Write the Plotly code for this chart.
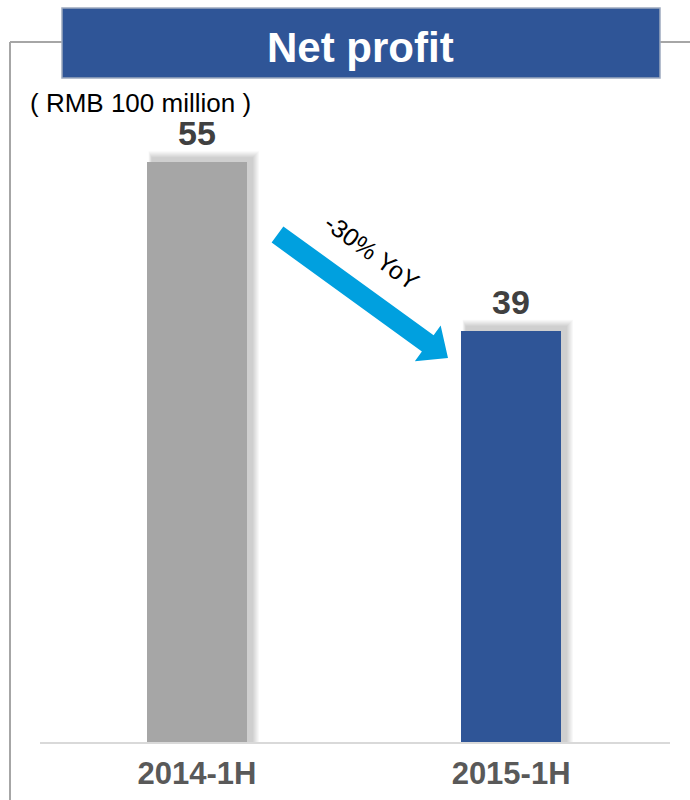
import math
import plotly.graph_objects as go

# Data
periods = ["2014-1H", "2015-1H"]
net_profit = [55, 39]
bar_colors = ["#A6A6A6", "#2F5597"]
title_text = "Net profit"
unit_text = "( RMB 100 million )"
change_text = "-30% YoY"

# Canvas geometry (pixels)
W, H = 690, 800
ML, MR, MT, MB = 40, 20, 100, 58
PW, PH = W - ML - MR, H - MT - MB

X_RANGE = [-0.5, 1.506]
Y_RANGE = [0, 60.9]
UX = (X_RANGE[1] - X_RANGE[0]) / PW   # data units per pixel, x
UY = (Y_RANGE[1] - Y_RANGE[0]) / PH   # data units per pixel, y
BAR_W = 100 * UX


def px(x):
    return (x - ML) / PW


def py(y):
    return (H - MB - y) / PH


FONT = "Liberation Sans, Arial, sans-serif"

fig = go.Figure()
fig.add_trace(go.Bar(
    x=list(range(len(periods))),
    y=net_profit,
    width=BAR_W,
    marker=dict(color=bar_colors, line=dict(width=0)),
    hoverinfo="skip",
))

shapes = []

# Soft drop shadow behind each bar (offset up and to the right)
for i, v in enumerate(net_profit):
    off_x, off_y = 5 * UX, 4 * UY
    for k in range(7, 0, -1):
        shapes.append(dict(
            type="rect", xref="x", yref="y", layer="below",
            x0=i - BAR_W / 2 + off_x - k * UX * 0.5,
            x1=i + BAR_W / 2 + off_x + k * UX,
            y0=0,
            y1=v + off_y + k * UY,
            line=dict(width=0),
            fillcolor="rgba(0,0,0,0.028)",
        ))

# Frame lines around the panel
frame_col = "#A6A6A6"
shapes.append(dict(type="line", xref="paper", yref="paper",
                   x0=px(10), y0=py(42), x1=px(10), y1=py(800),
                   line=dict(color=frame_col, width=2)))
shapes.append(dict(type="line", xref="paper", yref="paper",
                   x0=px(10), y0=py(42), x1=px(62), y1=py(42),
                   line=dict(color=frame_col, width=2)))
shapes.append(dict(type="line", xref="paper", yref="paper",
                   x0=px(660), y0=py(42), x1=px(690), y1=py(42),
                   line=dict(color=frame_col, width=2)))

# Title banner
shapes.append(dict(type="rect", xref="paper", yref="paper",
                   x0=px(62), y0=py(78), x1=px(660), y1=py(8),
                   fillcolor="#2F5597", line=dict(color="#9DA9BF", width=1.5)))

# Decline arrow between the two bars
tail = (277.5, 234.5)
tip = (448.0, 358.0)
dx, dy = tip[0] - tail[0], tip[1] - tail[1]
L = math.hypot(dx, dy)
ux, uy = dx / L, dy / L
nx, ny = -uy, ux
shaft_half, head_half, head_len = 10, 22, 25
neck = (tip[0] - ux * head_len, tip[1] - uy * head_len)
pts = [
    (tail[0] + nx * shaft_half, tail[1] + ny * shaft_half),
    (neck[0] + nx * shaft_half, neck[1] + ny * shaft_half),
    (neck[0] + nx * head_half, neck[1] + ny * head_half),
    tip,
    (neck[0] - nx * head_half, neck[1] - ny * head_half),
    (neck[0] - nx * shaft_half, neck[1] - ny * shaft_half),
    (tail[0] - nx * shaft_half, tail[1] - ny * shaft_half),
]
path = "M " + " L ".join(f"{px(a):.5f},{py(b):.5f}" for a, b in pts) + " Z"
shapes.append(dict(type="path", xref="paper", yref="paper", path=path,
                   fillcolor="#00A0DF", line=dict(width=0)))

annotations = []

# Value labels above bars
for i, v in enumerate(net_profit):
    annotations.append(dict(
        x=i, y=v, xref="x", yref="y", text=f"<b>{v}</b>",
        showarrow=False, yanchor="middle", yshift=29,
        font=dict(family=FONT, size=34, color="#404040"),
    ))

# Title, unit and change label
annotations.append(dict(
    x=px(360), y=py(47), xref="paper", yref="paper", text=f"<b>{title_text}</b>",
    showarrow=False, xanchor="center", yanchor="middle",
    font=dict(family=FONT, size=42, color="white"),
))
annotations.append(dict(
    x=px(29), y=py(103), xref="paper", yref="paper", text=unit_text,
    showarrow=False, xanchor="left", yanchor="middle", borderpad=0,
    font=dict(family=FONT, size=26, color="#000000"),
))
annotations.append(dict(
    x=px(372), y=py(252), xref="paper", yref="paper", text=change_text,
    showarrow=False, xanchor="center", yanchor="middle", textangle=36,
    font=dict(family=FONT, size=25, color="#000000"),
))

fig.update_layout(
    width=W, height=H,
    margin=dict(l=ML, r=MR, t=MT, b=MB, pad=0),
    paper_bgcolor="white", plot_bgcolor="white",
    showlegend=False,
    bargap=0,
    shapes=shapes,
    annotations=annotations,
    xaxis=dict(
        range=X_RANGE, tickmode="array",
        tickvals=list(range(len(periods))), ticktext=[f"<b>{p}</b>" for p in periods],
        tickfont=dict(family=FONT, size=31, color="#595959"),
        showgrid=False, zeroline=False, showline=True,
        linecolor="#D9D9D9", linewidth=2, ticks="", ticklabelstandoff=3,
        automargin=False, fixedrange=True,
    ),
    yaxis=dict(range=Y_RANGE, visible=False, showgrid=False, zeroline=False,
               automargin=False, fixedrange=True),
)

fig.write_html("out.html")
